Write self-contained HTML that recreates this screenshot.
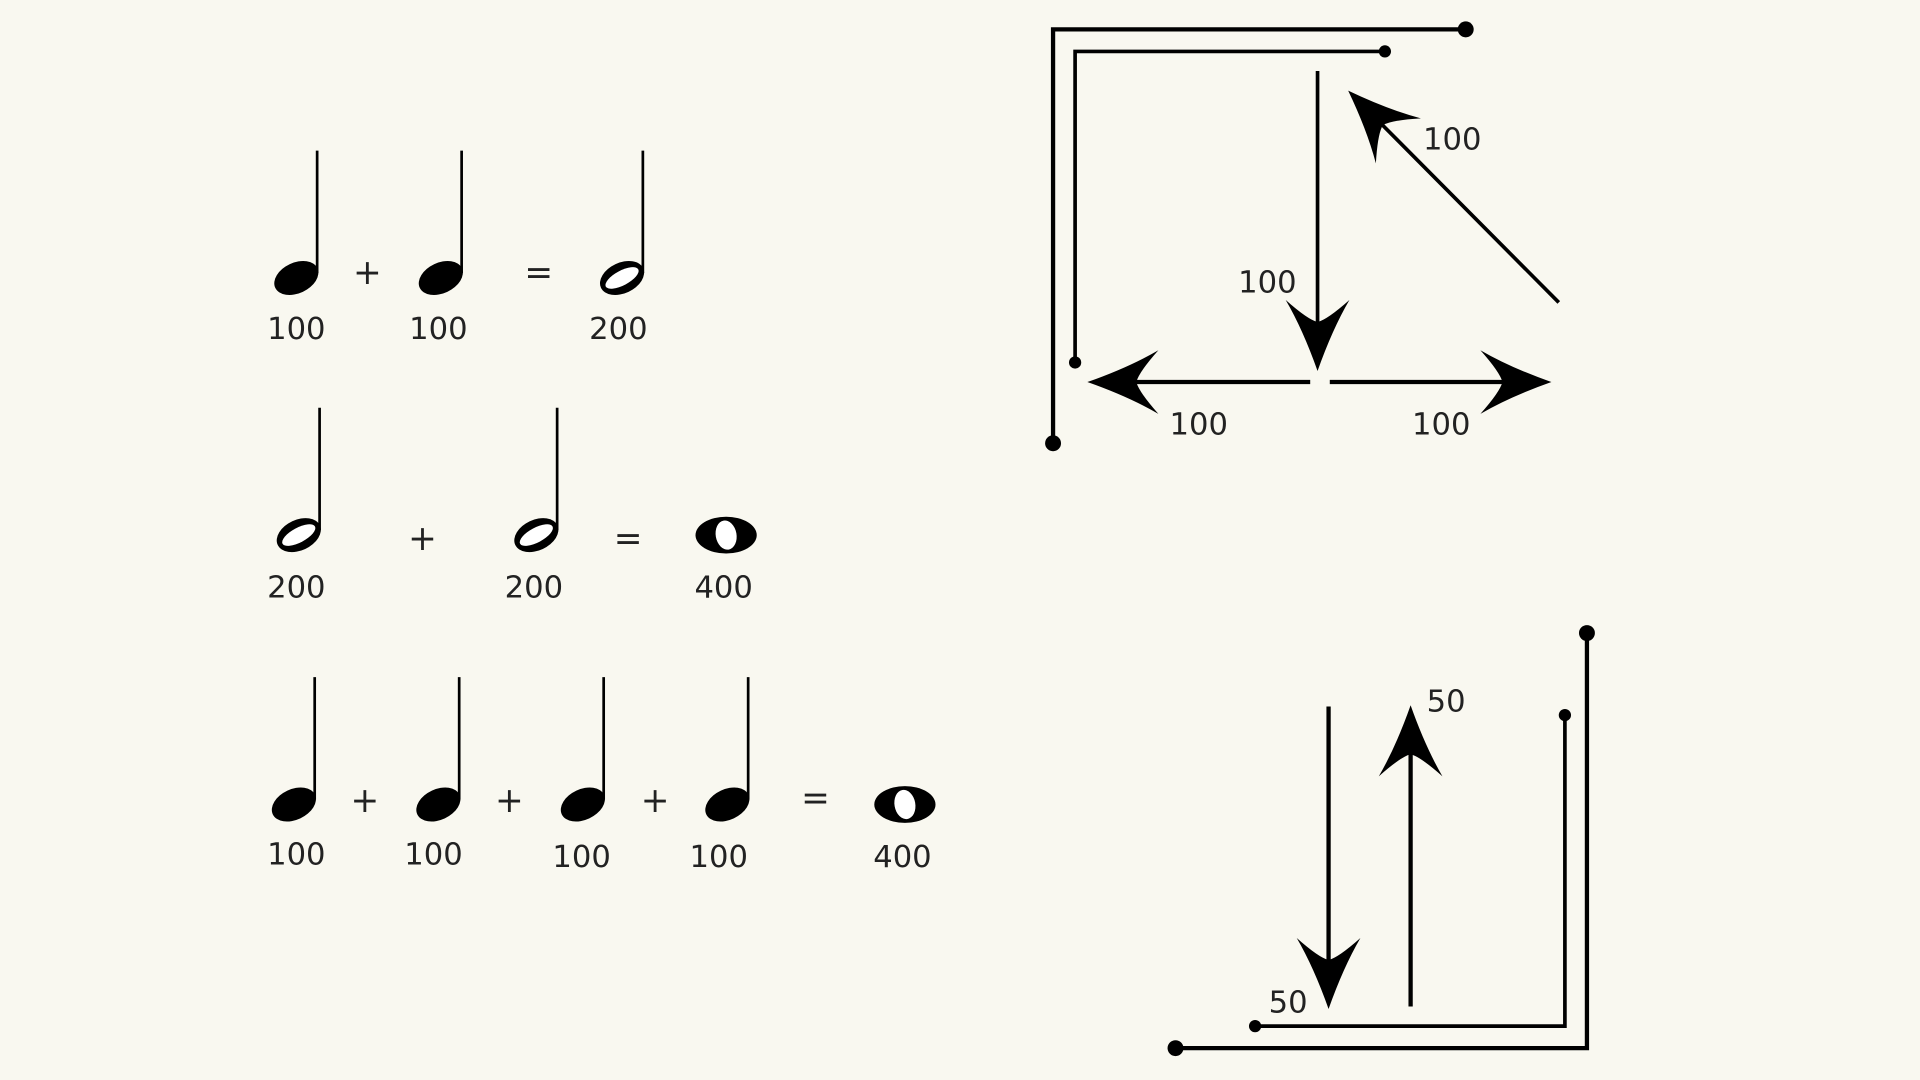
<!DOCTYPE html>
<html><head><meta charset="utf-8"><style>
html,body{margin:0;padding:0;background:#f9f8f0;}
svg{display:block}
text{font-family:"DejaVu Sans","Liberation Sans",sans-serif;font-size:25px;fill:#222;text-anchor:middle}
</style></head><body>
<svg width="1920" height="1080" viewBox="0 0 1568 882" xmlns="http://www.w3.org/2000/svg">
<defs>
<g id="q"><ellipse cx="0" cy="0" rx="19" ry="12.5" transform="rotate(-25)" fill="#000"/><line x1="17" y1="-4" x2="17" y2="-104" stroke="#000" stroke-width="2.2"/></g>
<g id="h"><ellipse cx="0" cy="0" rx="19" ry="12.5" transform="rotate(-25)" fill="#000"/><ellipse cx="0" cy="0" rx="15" ry="6" transform="rotate(-28)" fill="#fff"/><line x1="17" y1="-4" x2="17" y2="-104" stroke="#000" stroke-width="2.2"/></g>
<g id="w"><ellipse cx="0" cy="0" rx="25" ry="15" fill="#000"/><ellipse cx="0" cy="0" rx="8.5" ry="12" transform="rotate(-10)" fill="#fff"/></g>
<path id="ah" d="M0,0 Q-34,-12 -58,-26 Q-42,-8 -40,0 Q-42,8 -58,26 Q-34,12 0,0Z" fill="#000"/>
</defs>
<rect width="1568" height="882" fill="#f9f8f0"/>
<g>
<use href="#q" x="242" y="227"/><use href="#q" x="360" y="227"/><use href="#h" x="508" y="227"/>
<text x="300" y="232" style="font-size:28px">+</text><text x="440" y="232" style="font-size:28px">=</text>
<text x="242" y="277">100</text><text x="358" y="277">100</text><text x="505" y="277">200</text>

<use href="#h" x="244" y="437"/><use href="#h" x="438" y="437"/><use href="#w" x="593" y="437"/>
<text x="345" y="449" style="font-size:28px">+</text><text x="513" y="449" style="font-size:28px">=</text>
<text x="242" y="488">200</text><text x="436" y="488">200</text><text x="591" y="488">400</text>

<use href="#q" x="240" y="657"/><use href="#q" x="358" y="657"/><use href="#q" x="476" y="657"/><use href="#q" x="594" y="657"/><use href="#w" x="739" y="657"/>
<text x="298" y="663" style="font-size:28px">+</text><text x="416" y="663" style="font-size:28px">+</text><text x="535" y="663" style="font-size:28px">+</text><text x="666" y="661" style="font-size:28px">=</text>
<text x="242" y="706">100</text><text x="354" y="706">100</text><text x="475" y="708">100</text><text x="587" y="708">100</text><text x="737" y="708">400</text>
</g>
<g fill="none" stroke="#000" stroke-width="3.5">
<polyline points="1197,24 860,24 860,362"/>
<polyline points="1131,42 878,42 878,296" stroke-width="3"/>
<line x1="1076" y1="58" x2="1076" y2="285" stroke-width="3"/>
<line x1="1070" y1="312" x2="905" y2="312"/>
<line x1="1086" y1="312" x2="1250" y2="312"/>
<line x1="1273" y1="247" x2="1115" y2="88" stroke-width="3"/>
<polyline points="1296,517 1296,856 960,856"/>
<polyline points="1278,584 1278,838 1025,838" stroke-width="3"/>
<line x1="1085" y1="577" x2="1085" y2="805" stroke-width="3.5"/>
<line x1="1152" y1="822" x2="1152" y2="600" stroke-width="3.5"/>
</g>
<g fill="#000">
<circle cx="1197" cy="24" r="6.5"/><circle cx="860" cy="362" r="6.5"/>
<circle cx="1131" cy="42" r="5"/><circle cx="878" cy="296" r="5"/>
<circle cx="1296" cy="517" r="6.5"/><circle cx="960" cy="856" r="6.5"/>
<circle cx="1278" cy="584" r="5"/><circle cx="1025" cy="838" r="5"/>
</g>
<use href="#ah" transform="translate(1076,303) rotate(90)"/>
<use href="#ah" transform="translate(888,312) rotate(180)"/>
<use href="#ah" transform="translate(1267,312)"/>
<use href="#ah" transform="translate(1101,74) rotate(-135)"/>
<use href="#ah" transform="translate(1085,824) rotate(90)"/>
<use href="#ah" transform="translate(1152,576) rotate(-90)"/>
<text x="1186" y="122">100</text><text x="1035" y="239">100</text>
<text x="979" y="355">100</text><text x="1177" y="355">100</text>
<text x="1181" y="581">50</text><text x="1052" y="827">50</text>
</svg>
</body></html>
